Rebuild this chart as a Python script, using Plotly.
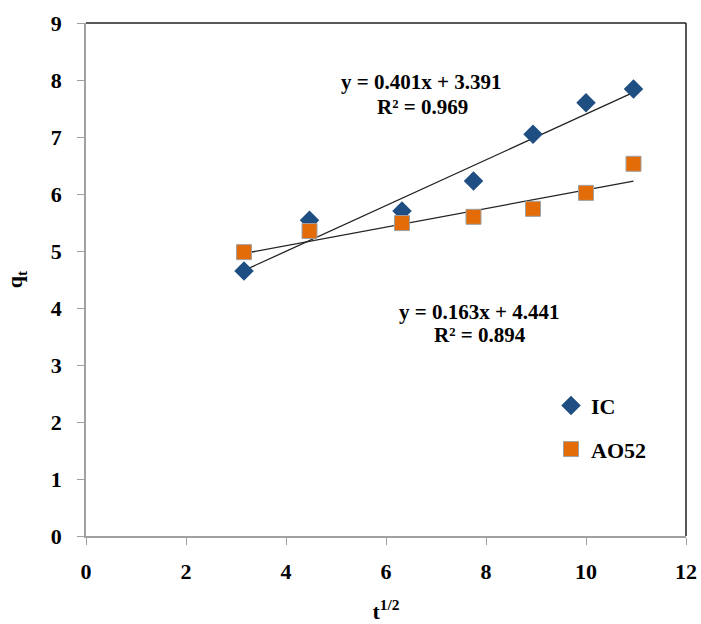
import plotly.graph_objects as go

# data
t_half = [3.16, 4.47, 6.32, 7.75, 8.94, 10.0, 10.95]
ic_q = [4.65, 5.54, 5.70, 6.23, 7.05, 7.60, 7.84]
ao52_q = [4.98, 5.35, 5.49, 5.60, 5.74, 6.02, 6.53]
ic_fit = (0.401, 3.391)
ao_fit = (0.163, 4.441)
x_ticks = [0, 2, 4, 6, 8, 10, 12]
y_ticks = [0, 1, 2, 3, 4, 5, 6, 7, 8, 9]

FONT = "Liberation Serif"
fig = go.Figure()

xf = [t_half[0], t_half[-1]]
fig.add_trace(go.Scatter(x=xf, y=[ic_fit[0] * v + ic_fit[1] for v in xf], mode="lines",
                         line=dict(color="#222222", width=1.3), showlegend=False, hoverinfo="skip"))
fig.add_trace(go.Scatter(x=xf, y=[ao_fit[0] * v + ao_fit[1] for v in xf], mode="lines",
                         line=dict(color="#222222", width=1.3), showlegend=False, hoverinfo="skip"))

fig.add_trace(go.Scatter(x=t_half, y=ic_q, mode="markers", name="<b>IC</b>", legendgroup="ic",
                         marker=dict(symbol="diamond", size=15, color="#1F4E82",
                                     line=dict(color="#1F4E82", width=0))))
fig.add_trace(go.Scatter(x=t_half, y=ao52_q, mode="markers", name="<b>AO52</b>", legendgroup="ao",
                         marker=dict(symbol="square", size=15, color="#E36C09",
                                     line=dict(color="#A0A0A0", width=1))))

AF = dict(family=FONT, size=21, color="black")
fig.add_annotation(x=6.7, y=7.96, xref="x", yref="y", showarrow=False,
                   text="<b>y = 0.401x + 3.391</b>", font=AF)
fig.add_annotation(x=6.72, y=7.53, xref="x", yref="y", showarrow=False,
                   text="<b>R² = 0.969</b>", font=AF)
fig.add_annotation(x=7.86, y=3.93, xref="x", yref="y", showarrow=False,
                   text="<b>y = 0.163x + 4.441</b>", font=AF)
fig.add_annotation(x=7.88, y=3.53, xref="x", yref="y", showarrow=False,
                   text="<b>R² = 0.894</b>", font=AF)

fig.update_layout(
    width=701, height=624,
    margin=dict(l=86, r=15, t=23, b=88),
    paper_bgcolor="white", plot_bgcolor="white",
    font=dict(family=FONT, size=22, color="black"),
    showlegend=True,
    legend=dict(x=0.775, y=0.295, xanchor="left", yanchor="top",
                font=dict(family=FONT, size=22, color="black"),
                bgcolor="rgba(0,0,0,0)", tracegroupgap=12, itemwidth=30),
    xaxis=dict(range=[0, 12], tickvals=x_ticks, ticktext=[f"<b>{v}</b>" for v in x_ticks],
               showgrid=False, zeroline=False, showline=True, linecolor="#A0A0A0", linewidth=1.5,
               ticks="outside", ticklen=7, tickcolor="#A0A0A0", mirror=False,
               ticklabelstandoff=8, automargin=False,
               title=dict(text="<b>t<sup>1/2</sup></b>", standoff=26, font=dict(size=22))),
    yaxis=dict(range=[0, 9], tickvals=y_ticks, ticktext=[f"<b>{v}</b>" for v in y_ticks],
               showgrid=False, zeroline=False, showline=True, linecolor="#A0A0A0", linewidth=1.5,
               ticks="outside", ticklen=7, tickcolor="#A0A0A0", mirror=False,
               ticklabelstandoff=11, automargin=False,
               title=dict(text="<b>q<sub>t</sub></b>", standoff=22, font=dict(size=22))),
)
# top and right frame lines (darker)
fig.add_shape(type="line", xref="paper", yref="paper", x0=0, x1=1, y0=1, y1=1,
              line=dict(color="#222222", width=1.5))
fig.add_shape(type="line", xref="paper", yref="paper", x0=1, x1=1, y0=0, y1=1,
              line=dict(color="#222222", width=1.5))

fig.write_html("out.html")
